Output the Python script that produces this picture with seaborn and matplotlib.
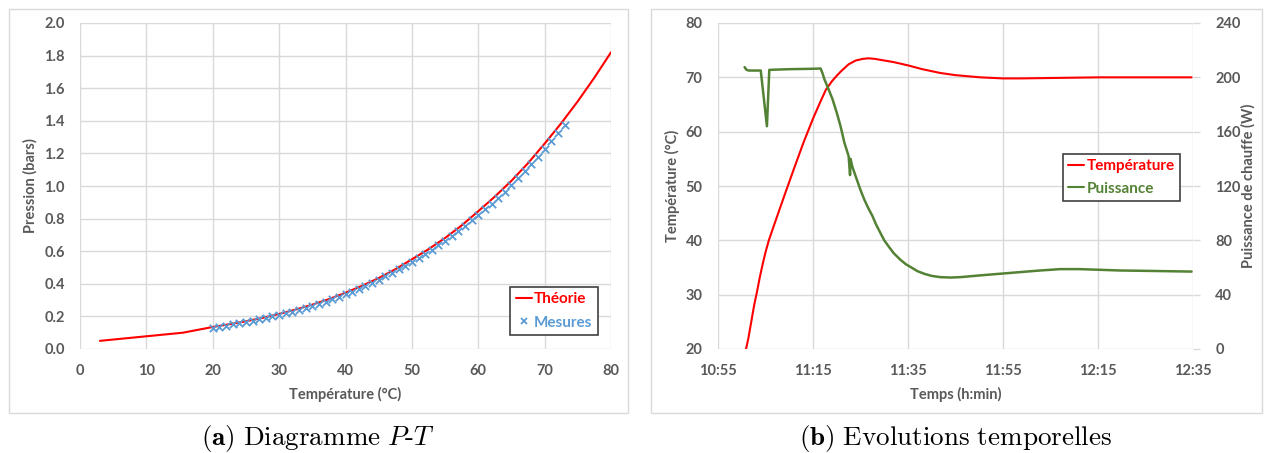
import numpy as np
import pandas as pd
import matplotlib
matplotlib.use("Agg")
import matplotlib.pyplot as plt
import matplotlib.dates as mdates
from matplotlib.lines import Line2D
from matplotlib.patches import Rectangle
from matplotlib.ticker import FormatStrFormatter
import seaborn as sns

# ---------------- data ----------------
# (a) P-T diagram
T_theorie = [3, 15.5, 20, 22.5, 25, 27.5, 30, 32.5, 35, 37.5, 40, 42.5, 45, 47.5,
             50, 52.5, 55, 57.5, 60, 62.5, 65, 67.5, 70, 72.5, 75, 77.5, 80]
P_theorie = [0.05, 0.10, 0.135, 0.152, 0.170, 0.191, 0.215, 0.242, 0.272, 0.306,
             0.345, 0.388, 0.435, 0.489, 0.55, 0.612, 0.681, 0.758, 0.845, 0.935,
             1.032, 1.14, 1.26, 1.385, 1.52, 1.665, 1.82]

T_mesures = [20, 21, 22, 23, 24, 25, 26, 27, 28, 29,
             30, 31, 32, 33, 34, 35, 36, 37, 38, 39,
             40, 41, 42, 43, 44, 45, 46, 47, 48, 49,
             50, 51, 52, 53, 54, 55, 56, 57, 58, 59,
             60, 61, 62, 63, 64, 65, 66, 67, 68, 69,
             70, 71, 72, 73]
P_mesures = [0.13, 0.137, 0.144, 0.151, 0.158, 0.166, 0.174, 0.182, 0.191, 0.20,
             0.21, 0.219, 0.23, 0.241, 0.253, 0.265, 0.278, 0.291, 0.306, 0.321,
             0.336, 0.352, 0.369, 0.387, 0.405, 0.424, 0.445, 0.466, 0.488, 0.511,
             0.536, 0.56, 0.584, 0.61, 0.637, 0.664, 0.693, 0.724, 0.756, 0.789,
             0.824, 0.857, 0.892, 0.929, 0.966, 1.006, 1.047, 1.09, 1.134, 1.18,
             1.228, 1.275, 1.325, 1.375]

# (b) time evolutions
temp_heures = ["11:00:54", "11:01:24", "11:02:00", "11:02:36", "11:03:12", "11:03:48",
               "11:04:24", "11:05:00", "11:05:42", "11:07:00", "11:09:00", "11:11:00",
               "11:13:00", "11:15:00", "11:16:30", "11:17:42", "11:19:00", "11:20:00",
               "11:21:00", "11:22:30", "11:24:00", "11:25:30", "11:26:42", "11:28:00",
               "11:30:00", "11:32:00", "11:35:00", "11:38:00", "11:41:48", "11:45:00",
               "11:50:12", "11:55:00", "11:58:36", "12:07:00", "12:15:24", "12:34:42"]
temp_valeurs = [20.0, 22.0, 25.0, 28.0, 30.5, 33.2,
                35.6, 37.8, 40.0, 43.3, 48.3, 53.2,
                58.0, 62.4, 65.4, 67.7, 69.3, 70.3,
                71.2, 72.4, 73.1, 73.4, 73.5, 73.4,
                73.1, 72.8, 72.2, 71.5, 70.8, 70.4,
                70.0, 69.8, 69.8, 69.9, 70.0, 70.0]

puis_heures = ["11:00:36", "11:01:00", "11:01:30", "11:02:30", "11:04:00", "11:05:18",
               "11:05:48", "11:10:00", "11:15:00", "11:16:36", "11:17:00", "11:17:24",
               "11:18:18", "11:19:06", "11:20:00", "11:20:48", "11:21:36", "11:22:30",
               "11:22:48", "11:22:54", "11:23:18", "11:24:12", "11:25:00", "11:25:48",
               "11:26:36", "11:27:30", "11:28:18", "11:29:12", "11:30:00", "11:30:54",
               "11:32:00", "11:33:24", "11:34:36", "11:35:54", "11:37:00", "11:38:24",
               "11:40:00", "11:41:48", "11:44:00", "11:46:00", "11:50:12", "11:54:24",
               "11:58:36", "12:02:48", "12:07:00", "12:11:12", "12:15:24", "12:19:36",
               "12:23:48", "12:34:42"]
puis_valeurs = [207.5, 205.5, 205.0, 205.0, 205.0, 164.0,
                205.5, 206.0, 206.3, 206.5, 203.0, 198.6,
                191.0, 184.0, 174.0, 164.0, 152.0, 142.0,
                128.0, 140.0, 134.0, 125.0, 117.0, 110.0,
                104.0, 98.0, 91.5, 85.4, 80.0, 75.6,
                70.5, 65.7, 62.3, 59.6, 57.3, 55.4,
                53.8, 52.9, 52.6, 52.9, 54.2, 55.4,
                56.6, 57.8, 58.8, 58.8, 58.3, 57.8,
                57.6, 57.0]

# ---------------- style ----------------
sns.set_theme(style="white")
plt.rcParams["font.family"] = ["Lato", "DejaVu Sans"]
plt.rcParams["mathtext.fontset"] = "cm"

GRID = "#D9D9D9"
TXT = "#595959"
RED = "#FF0000"
BLUE = "#5B9BD5"
GREEN = "#548235"
FS = 10.5

fig = plt.figure(figsize=(12.68, 4.53), dpi=100)
W, H = 1268, 453

def fx(px):
    return px / W

def fy(py):
    return (H - py) / H

# outer frames
for x0, x1 in [(9, 628), (651, 1262)]:
    fig.add_artist(Rectangle((fx(x0), fy(413)), fx(x1) - fx(x0), fy(9) - fy(413),
                             transform=fig.transFigure, fill=False, ec=GRID, lw=1))

def style_axes(ax):
    for s in ax.spines.values():
        s.set_visible(False)
    ax.grid(True, color=GRID, lw=1)
    ax.set_axisbelow(True)
    ax.tick_params(length=0, pad=11, labelsize=FS, labelcolor=TXT)

def bold_ticks(ax):
    for lab in ax.get_xticklabels() + ax.get_yticklabels():
        lab.set_fontweight("bold")

# ---------- (a) ----------
ax1 = fig.add_axes([fx(80), fy(349), fx(611) - fx(80), fy(23) - fy(349)])
sns.lineplot(x=T_theorie, y=P_theorie, ax=ax1, color=RED, lw=1.5, zorder=2)
sns.scatterplot(x=T_mesures, y=P_mesures, ax=ax1, marker="x", color=BLUE, s=28,
                linewidth=1.3, zorder=3)
ax1.set_xlim(0, 80)
ax1.set_ylim(0, 2.0)
ax1.set_xticks(np.arange(0, 81, 10))
ax1.set_yticks(np.arange(0, 2.01, 0.2))
ax1.yaxis.set_major_formatter(FormatStrFormatter("%.1f"))
style_axes(ax1)
bold_ticks(ax1)
ax1.set_xlabel("Température (°C)", fontsize=FS, fontweight="bold", color=TXT)
ax1.set_ylabel("Pression (bars)", fontsize=FS, fontweight="bold", color=TXT)
ax1.xaxis.label.set_va("center")
ax1.yaxis.label.set_va("center")
ax1.xaxis.set_label_coords(0.5, -0.141)
ax1.yaxis.set_label_coords(-0.094, 0.5)

h1 = [Line2D([], [], color=RED, lw=1.5),
      Line2D([], [], color=BLUE, marker="x", ls="none", ms=5, mew=1.3)]
leg1 = ax1.legend(h1, ["Théorie", "Mesures"], loc="lower right",
                  bbox_to_anchor=(0.975, 0.043), borderaxespad=0,
                  prop={"size": 11, "weight": "bold"}, frameon=True, fancybox=False,
                  edgecolor="#404040", framealpha=1, handlelength=1.05,
                  handletextpad=0.15, labelspacing=0.6, borderpad=0.35)
leg1.get_frame().set_linewidth(1.2)
for t, c in zip(leg1.get_texts(), [RED, BLUE]):
    t.set_color(c)

# ---------- (b) ----------
base = "2020-01-01 "
t_temp = pd.to_datetime([base + h for h in temp_heures])
t_puis = pd.to_datetime([base + h for h in puis_heures])

ax2 = fig.add_axes([fx(718), fy(349), fx(1193) - fx(718), fy(23) - fy(349)])
ax3 = ax2.twinx()
sns.lineplot(x=t_temp, y=temp_valeurs, ax=ax2, color=RED, lw=1.5)
sns.lineplot(x=t_puis, y=puis_valeurs, ax=ax3, color=GREEN, lw=1.8)

ax2.set_xlim(pd.Timestamp(base + "10:55"), pd.Timestamp(base + "12:35"))
ax2.xaxis.set_major_locator(mdates.MinuteLocator(byminute=[15, 35, 55]))
ax2.xaxis.set_major_formatter(mdates.DateFormatter("%H:%M"))
ax2.set_ylim(20, 80)
ax2.set_yticks(np.arange(20, 81, 10))
ax3.set_ylim(0, 240)
ax3.set_yticks(np.arange(0, 241, 40))
style_axes(ax2)
for s in ax3.spines.values():
    s.set_visible(False)
ax3.grid(False)
ax3.tick_params(axis="y", length=5, color=GRID, width=1, pad=11, labelsize=FS,
                labelcolor=TXT)
bold_ticks(ax2)
bold_ticks(ax3)
ax2.set_xlabel("Temps (h:min)", fontsize=FS, fontweight="bold", color=TXT)
ax2.set_ylabel("Température (°C)", fontsize=FS, fontweight="bold", color=TXT)
ax3.set_ylabel("Puissance de chauffe (W)", fontsize=FS, fontweight="bold", color=TXT)
ax2.xaxis.label.set_va("center")
ax2.yaxis.label.set_va("center")
ax3.yaxis.label.set_va("center")
ax2.xaxis.set_label_coords(0.5, -0.141)
ax2.yaxis.set_label_coords(-0.095, 0.5)
ax3.yaxis.set_label_coords(1.116, 0.5)

h2 = [Line2D([], [], color=RED, lw=1.5), Line2D([], [], color=GREEN, lw=1.5)]
leg2 = ax3.legend(h2, ["Température", "Puissance"], loc="upper right",
                  bbox_to_anchor=(0.973, 0.598), borderaxespad=0,
                  prop={"size": 11, "weight": "bold"}, frameon=True, fancybox=False,
                  edgecolor="#404040", framealpha=1, handlelength=1.05,
                  handletextpad=0.15, labelspacing=0.55, borderpad=0.35)
leg2.get_frame().set_linewidth(1.2)
for t, c in zip(leg2.get_texts(), [RED, GREEN]):
    t.set_color(c)

# captions
fig.text(fx(318.5), fy(438), r"$\mathbf{(a)}\ \mathrm{Diagramme}\ P\text{-}T$",
         ha="center", va="center", fontsize=19.5, color="black")
fig.text(fx(956), fy(438), r"$\mathbf{(b)}\ \mathrm{Evolutions\ temporelles}$",
         ha="center", va="center", fontsize=19.5, color="black")

fig.savefig("out.png", dpi=100)
